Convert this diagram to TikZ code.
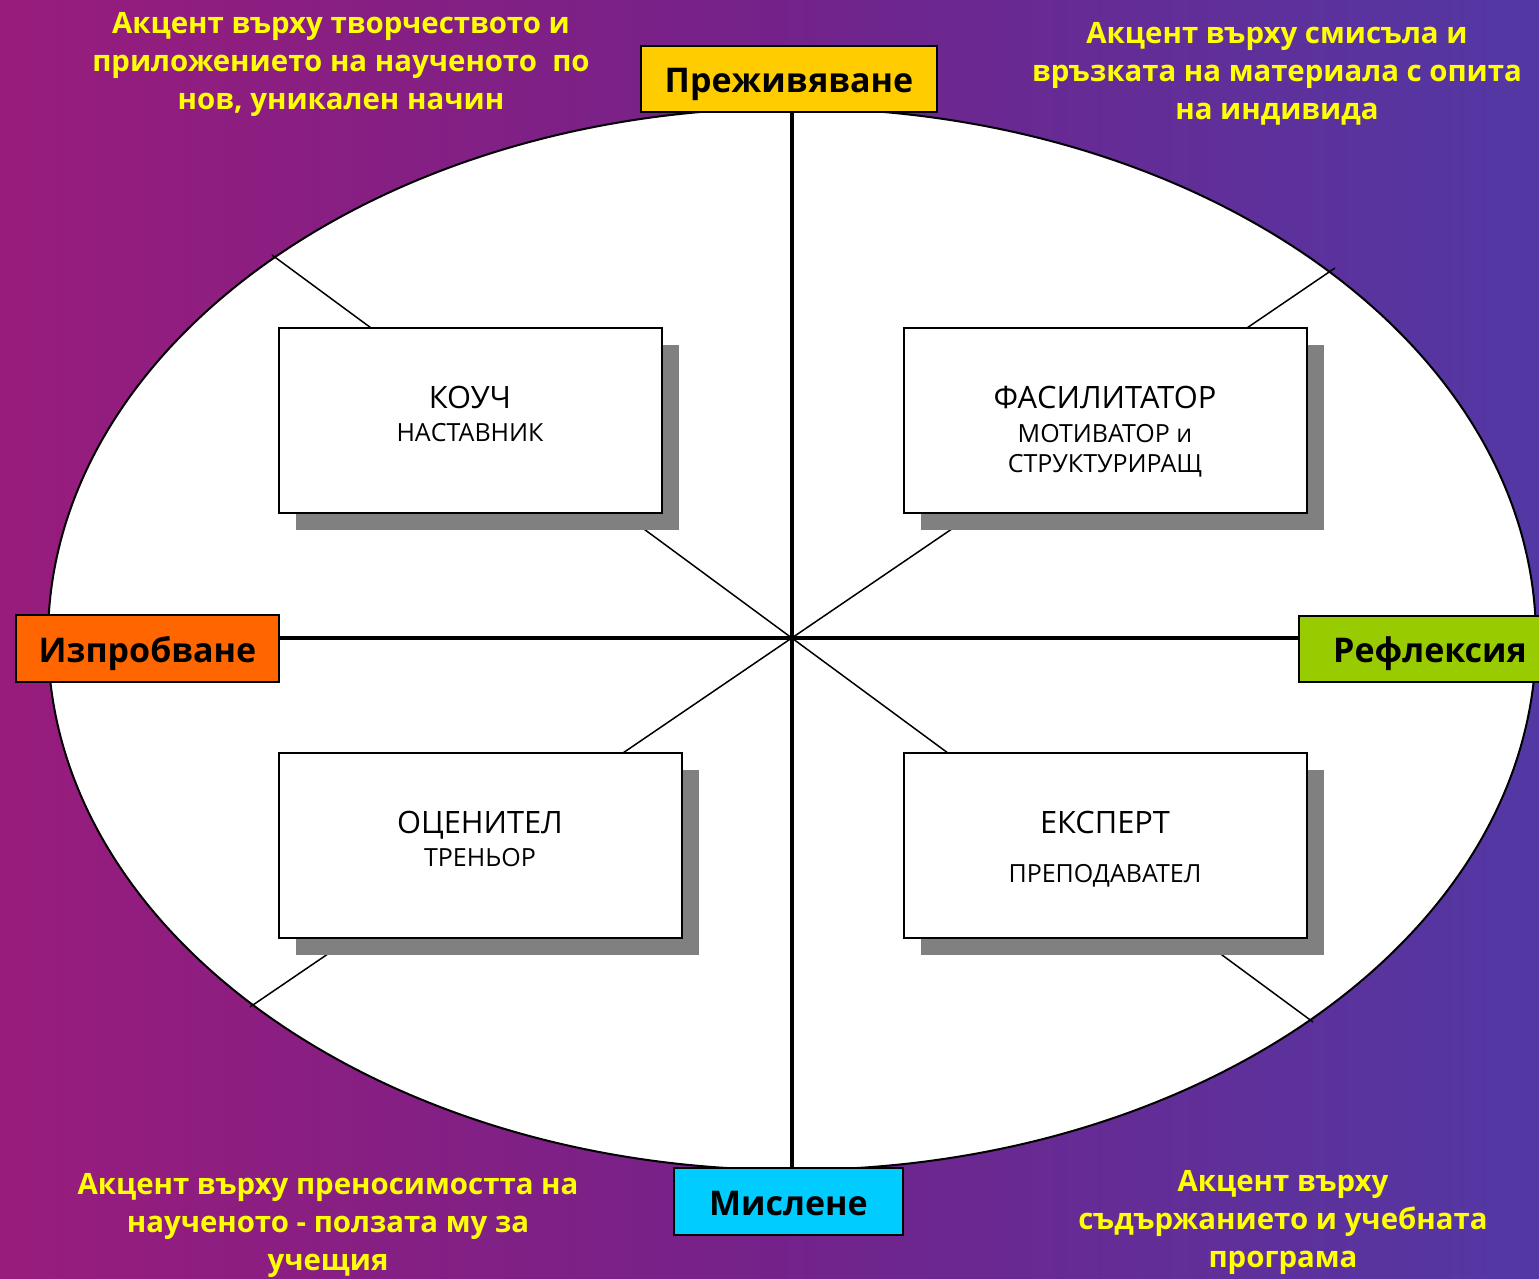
\documentclass[tikz,border=0pt]{standalone}
\usepackage{fontspec}
\setmainfont{Open Sans}
\definecolor{bgL}{HTML}{981C7C}
\definecolor{bgM}{HTML}{74228A}
\definecolor{bgR}{HTML}{5238A4}
\definecolor{noteyellow}{HTML}{FFFF00}
\definecolor{lblyellow}{HTML}{FFCC00}
\definecolor{lblorange}{HTML}{FF6600}
\definecolor{lblgreen}{HTML}{99CC00}
\definecolor{lblcyan}{HTML}{00CCFF}
\definecolor{shadowgray}{HTML}{808080}
\tikzset{
  note/.style={text=noteyellow, font=\bfseries\fontsize{29.4}{38}\selectfont, align=center, inner sep=0},
  rolebox/.style={draw=black, line width=2, fill=white, minimum width=#1, minimum height=185, inner sep=0},
  roleshadow/.style={fill=shadowgray, minimum width=#1, minimum height=185, inner sep=0},
  roletitle/.style={anchor=base, font=\fontsize{30.8}{36}\selectfont, inner sep=0},
  rolesub/.style={anchor=base, font=\fontsize{25}{30}\selectfont, inner sep=0},
  axislabel/.style={draw=black, line width=2, font=\bfseries\fontsize{34}{40}\selectfont, inner sep=0, text height=27, text depth=0},
  axisline/.style={line width=4.5, draw=black},
  diagline/.style={line width=1.5, draw=black}
}
\begin{document}
\begin{tikzpicture}[x=1pt,y=-1pt]
\useasboundingbox (0,0) rectangle (1539,1279);
\clip (0,0) rectangle (1539,1279);
\shade[left color=bgL, right color=bgR, middle color=bgM] (0,0) rectangle (1539,1279);

% ellipse
\draw[line width=2, fill=white] (792,639) ellipse [x radius=744, y radius=531];

% diagonals
\coordinate (d1a) at (272,255);
\coordinate (d1b) at (1313,1022);
\coordinate (d2a) at (1335,268);
\coordinate (d2b) at (250,1007);
\draw[diagline] (d1a) -- (d1b);
\draw[diagline] (d2a) -- (d2b);

% role boxes with shadows
\node[roleshadow=383] (s1) at (487.5,437.5) {};
\node[rolebox=383] (b1) at (470.5,420.5) {};
\node[roleshadow=403] (s2) at (1122.5,437.5) {};
\node[rolebox=403] (b2) at (1105.5,420.5) {};
\node[roleshadow=403] (s3) at (497.5,862.5) {};
\node[rolebox=403] (b3) at (480.5,845.5) {};
\node[roleshadow=403] (s4) at (1122.5,862.5) {};
\node[rolebox=403] (b4) at (1105.5,845.5) {};

\node[roletitle] (t1a) at (470,408) {КОУЧ};
\node[rolesub] (t1b) at (470,441) {НАСТАВНИК};
\node[roletitle] (t2a) at (1105,408) {ФАСИЛИТАТОР};
\node[rolesub] (t2b) at (1105,442) {МОТИВАТОР и};
\node[rolesub] (t2c) at (1105,472) {СТРУКТУРИРАЩ};
\node[roletitle] (t3a) at (480,833) {ОЦЕНИТЕЛ};
\node[rolesub] (t3b) at (480,866) {ТРЕНЬОР};
\node[roletitle] (t4a) at (1105,833) {ЕКСПЕРТ};
\node[rolesub] (t4b) at (1105,882) {ПРЕПОДАВАТЕЛ};

% axis labels
\node[axislabel, fill=lblyellow, minimum width=296, minimum height=66] (lt) at (789,79) {Преживяване};
\node[axislabel, fill=lblorange, minimum width=263, minimum height=67] (ll) at (147.5,648.5) {Изпробване};
\node[axislabel, fill=lblgreen, minimum width=262, minimum height=66] (lr) at (1430,649) {Рефлексия};
\node[axislabel, fill=lblcyan, minimum width=229, minimum height=67] (lb) at (788.5,1201.5) {Мислене};

% axes
\coordinate (axc) at (792,638);
\draw[axisline] (axc |- lt.south) -- (axc |- lb.north);
\draw[axisline] (ll.east |- axc) -- (lr.west |- axc);

% notes
\node[note] (n1) at (341,64) {Акцент върху творчеството и\\приложението на наученото\ \ по\\нов, уникален начин};
\node[note] (n2) at (1277,74) {Акцент върху смисъла и\\връзката на материала с опита\\на индивида};
\node[note] (n3) at (328,1225) {Акцент върху преносимостта на\\наученото - ползата му за\\учещия};
\node[note] (n4) at (1283,1222) {Акцент върху\\съдържанието и учебната\\програма};
\end{tikzpicture}
\end{document}
